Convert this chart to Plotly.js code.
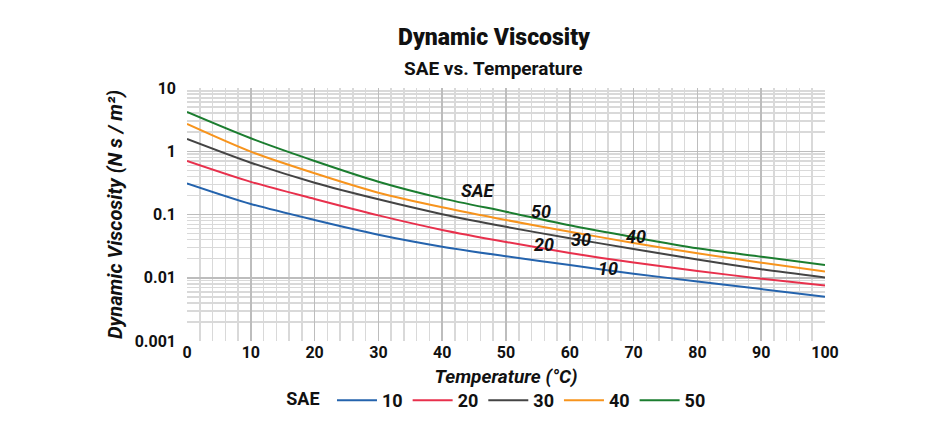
<!DOCTYPE html>
<html>
<head>
<meta charset="utf-8">
<script src="https://cdn.plot.ly/plotly-3.0.1.min.js"></script>
<style>
  html, body { margin: 0; padding: 0; background: #fff; }
  #chart { width: 940px; height: 421px; }
</style>
</head>
<body>
<div id="chart"></div>
<script>
// Temperature in °C
const temperature = [0, 10, 20, 30, 40, 50, 60, 70, 80, 90, 100];

// Dynamic viscosity (N s / m²) for each SAE grade
const sae10 = [0.311, 0.147, 0.0818, 0.0479, 0.0310, 0.0219, 0.0159, 0.0116, 0.00873, 0.00662, 0.00502];
const sae20 = [0.702, 0.328, 0.176, 0.0968, 0.0570, 0.0368, 0.0246, 0.0174, 0.0128, 0.00968, 0.00752];
const sae30 = [1.563, 0.659, 0.318, 0.174, 0.1012, 0.0638, 0.0422, 0.0285, 0.0195, 0.01365, 0.0101];
const sae40 = [2.698, 0.984, 0.448, 0.221, 0.130, 0.0818, 0.0535, 0.0355, 0.0243, 0.0173, 0.0125];
const sae50 = [4.18, 1.603, 0.702, 0.330, 0.180, 0.1106, 0.0675, 0.0437, 0.0292, 0.0215, 0.0159];

const grades = ['10', '20', '30', '40', '50'];
const series = [sae10, sae20, sae30, sae40, sae50];
const colors = ['#2463ad', '#e8304c', '#444444', '#f7941d', '#1b7d2f'];

// Y-axis tick labels (decades)
const yTickVals = [0.001, 0.01, 0.1, 1, 10];
const yTickText = ['0.001', '0.01', '0.1', '1', '10'];

// Inline curve labels: [text, temperature, log10(viscosity)]
const curveLabels = [
  ['SAE', 45.6, -0.62],
  ['50', 55.5, -0.96],
  ['20', 56.0, -1.47],
  ['30', 61.8, -1.40],
  ['40', 70.4, -1.34],
  ['10', 66.0, -1.86]
];

const FONT = 'Roboto, "Liberation Sans", sans-serif';
const INK = '#111111';

const traces = grades.map((g, i) => ({
  x: temperature,
  y: series[i],
  name: g,
  type: 'scatter',
  mode: 'lines',
  line: { color: colors[i], width: 2, shape: 'spline', smoothing: 0.8 }
}));

const annotations = curveLabels.map(([t, x, y]) => ({
  text: '<i>' + t + '</i>',
  x: x, y: y, xref: 'x', yref: 'y',
  showarrow: false,
  font: { family: FONT, size: 18, color: INK, weight: 700 }
}));

annotations.push(
  {
    text: 'Dynamic Viscosity',
    xref: 'paper', yref: 'paper', x: 0.481, y: 1.198,
    xanchor: 'center', yanchor: 'middle', showarrow: false,
    font: { family: FONT, size: 23, color: INK, weight: 900 }
  },
  {
    text: 'SAE vs. Temperature',
    xref: 'paper', yref: 'paper', x: 0.481, y: 1.079,
    xanchor: 'center', yanchor: 'middle', showarrow: false,
    font: { family: FONT, size: 19, color: INK, weight: 700 }
  }
);

const layout = {
  width: 940,
  height: 421,
  margin: { l: 187, r: 115, t: 88, b: 80, autoexpand: false },
  paper_bgcolor: '#fff',
  plot_bgcolor: '#fff',
  font: { family: FONT, color: INK },
  showlegend: true,
  legend: {
    orientation: 'h',
    x: 0.487, xanchor: 'center',
    y: -0.235, yanchor: 'middle',
    title: { text: 'SAE ', font: { family: FONT, size: 18, color: INK, weight: 700 } },
    font: { family: FONT, size: 18, color: INK, weight: 700 },
    itemwidth: 40,
    tracegroupgap: 0
  },
  xaxis: {
    range: [0, 100],
    dtick: 10,
    tick0: 0,
    showgrid: true,
    gridcolor: '#bdbdbd',
    gridwidth: 1.5,
    minor: { dtick: 2, showgrid: true, gridcolor: '#d9d9d9', gridwidth: 1.5 },
    zeroline: false,
    showline: false,
    ticks: '',
    tickfont: { family: FONT, size: 16, color: INK, weight: 700 },
    title: {
      text: '<i>Temperature (°C)</i>',
      font: { family: FONT, size: 19, color: INK, weight: 700 },
      standoff: 8
    }
  },
  yaxis: {
    type: 'log',
    range: [-3, 1],
    tickvals: yTickVals,
    ticktext: yTickText,
    showgrid: true,
    gridcolor: '#bdbdbd',
    gridwidth: 1.5,
    minor: { dtick: 'D1', showgrid: true, gridcolor: '#d9d9d9', gridwidth: 1.5 },
    zeroline: false,
    showline: false,
    ticks: '',
    ticklabelstandoff: 10,
    tickfont: { family: FONT, size: 16, color: INK, weight: 700 },
    title: {
      text: '<i>Dynamic Viscosity (N s / m²)</i>',
      font: { family: FONT, size: 20, color: INK, weight: 700 },
      standoff: 6
    }
  },
  annotations: annotations
};

Plotly.newPlot('chart', traces, layout, { staticPlot: true, displayModeBar: false });
</script>
</body>
</html>
